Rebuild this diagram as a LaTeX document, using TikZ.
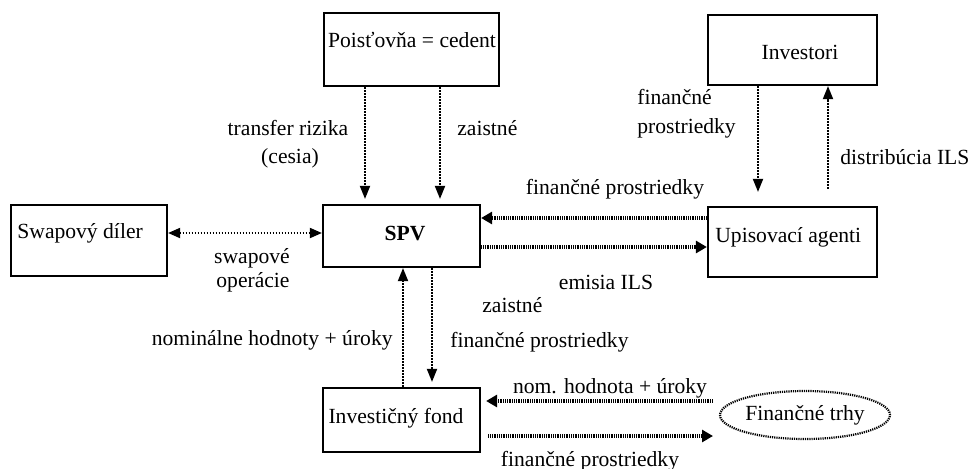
\documentclass[tikz,border=0pt]{standalone}
\usepackage{fontspec}
\setmainfont{Liberation Serif}
\usetikzlibrary{arrows.meta,shapes.geometric}
\begin{document}
\begin{tikzpicture}[x=0.5pt,y=-0.5pt,
  box/.style={draw,line width=1.1pt,rectangle,inner sep=0pt},
  txt/.style={inner sep=0pt,font=\fontsize{10.8}{13}\selectfont},
  tip/.style={-{Triangle[length=6.5pt,width=5pt]}},
  conn/.style={line width=0.9pt,dash pattern=on 0.8pt off 0.7pt,tip},
  fatconn/.style={line width=1.8pt,dash pattern=on 0.5pt off 0.4pt,-{Triangle[length=5.5pt,width=6pt]}}
]
\useasboundingbox (0,0) rectangle (971,468);

% boxes
\node[box,minimum width=87.5pt,minimum height=36.5pt] (poist) at (411.5,49.5) {};
\node[box,minimum width=84.5pt,minimum height=35pt] (inv) at (792.5,50) {};
\node[box,minimum width=78.5pt,minimum height=31pt] (spv) at (401.5,236) {};
\node[box,minimum width=78pt,minimum height=35.5pt] (swap) at (89,240.5) {};
\node[box,minimum width=84.5pt,minimum height=35pt] (upis) at (792.5,242) {};
\node[box,minimum width=78.5pt,minimum height=32pt] (fond) at (401.5,420) {};
\node[ellipse,draw,line width=1.1pt,dash pattern=on 0.6pt off 0.5pt,minimum width=85pt,minimum height=24pt,inner sep=0pt,txt] (trhy) at (805,415) {Finančné trhy};

% box texts
\node[txt] (poistT) at (412,40) {Poisťovňa = cedent};
\node[txt] (invT) at (800,52) {Investori};
\node[txt] (spvT) at (405,234) {\textbf{SPV}};
\node[txt,anchor=west] (swapT) at (17,233) {Swapový díler};
\node[txt,anchor=west] (upisT) at (715,237) {Upisovací agenti};
\node[txt] (fondT) at (396,418) {Investičný fond};

% labels
\node[txt] (l1) at (288,128) {transfer rizika};
\node[txt] (l2) at (290,158) {(cesia)};
\node[txt,anchor=west] (l3) at (457,128) {zaistné};
\node[txt,anchor=west] (l4) at (637,97) {finančné};
\node[txt,anchor=west] (l5) at (637,128) {prostriedky};
\node[txt,anchor=west] (l6) at (840,157) {distribúcia ILS};
\node[txt] (l7) at (615,189) {finančné prostriedky};
\node[txt] (l8) at (606,282) {emisia ILS};
\node[txt] (l9) at (252,258) {swapové};
\node[txt] (l10) at (253,282) {operácie};
\node[txt,anchor=east] (l11) at (393,340) {nominálne hodnoty + úroky};
\node[txt,anchor=west] (l12) at (482,305) {zaistné};
\node[txt,anchor=west] (l13) at (450,342) {finančné prostriedky};
\node[txt] (l14) at (610,388) {nom. hodnota + úroky};
\node[txt] (l15) at (590,461) {finančné prostriedky};

% connector guides
\coordinate (c1) at (365,0);
\coordinate (c2) at (440,0);
\coordinate (c3) at (758,0);
\coordinate (c4) at (828,0);
\coordinate (c5) at (0,218);
\coordinate (c6) at (0,247);
\coordinate (c7) at (0,233);
\coordinate (c8) at (403,0);
\coordinate (c9) at (432,0);
\coordinate (m1) at (713,401);
\coordinate (m2) at (713,436);

% connectors
\draw[conn,shorten >=2.5pt] (poist.south -| c1) -- (spv.north -| c1);
\draw[conn,shorten >=2.5pt] (poist.south -| c2) -- (spv.north -| c2);
\draw[conn,shorten >=7pt] (inv.south -| c3) -- (upis.north -| c3);
\draw[conn,shorten <=8.5pt] (upis.north -| c4) -- (inv.south -| c4);
\draw[fatconn] (upis.west |- c5) -- (spv.east |- c5);
\draw[fatconn] (spv.east |- c6) -- (upis.west |- c6);
\draw[conn,{Triangle[length=6pt,width=5pt]}-{Triangle[length=6pt,width=5pt]}] (swap.east |- c7) -- (spv.west |- c7);
\draw[conn] (fond.north -| c8) -- (spv.south -| c8);
\draw[conn,shorten >=2.5pt] (spv.south -| c9) -- (fond.north -| c9);
\draw[fatconn,shorten >=2.5pt] (m1) -- (fond.east |- m1);
\draw[fatconn,shorten <=3.5pt] (fond.east |- m2) -- (m2);
\end{tikzpicture}
\end{document}
